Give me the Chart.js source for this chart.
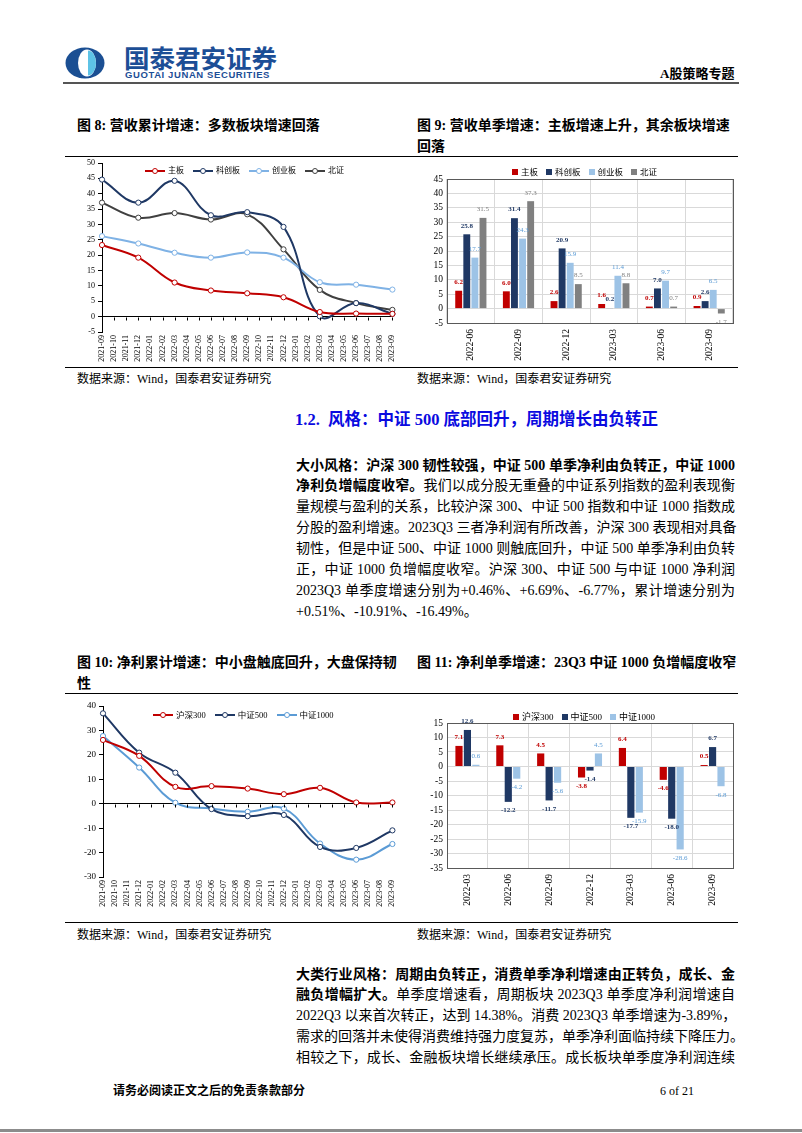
<!DOCTYPE html>
<html lang="zh-CN">
<head>
<meta charset="UTF-8">
<title>A股策略专题</title>
<script src="https://cdn.jsdelivr.net/npm/chart.js"></script>
<style>
  body { margin: 0; background: #fff; }
  #page { position: relative; width: 802px; height: 1133px; overflow: hidden;
          font-family: "Liberation Serif", "Noto Sans CJK SC", serif; color: #000; }
  .abs { position: absolute; white-space: nowrap; }
  .rule { position: absolute; left: 65px; width: 673px; height: 0; border-top: 1.5px solid #000; }
  .ctitle { font-size: 14px; font-weight: bold; line-height: 21px; }
  .src { font-size: 12px; line-height: 16px; }
  .para { position: absolute; left: 296px; width: 439px; font-size: 14px; line-height: 20.9px; }
  .para div { text-align: justify; text-align-last: justify; white-space: nowrap; }
  .para div.last { text-align-last: left; }
  .legend { position: absolute; display: flex; align-items: center; gap: 9px; white-space: nowrap; }
  .legend .it { display: flex; align-items: center; }
  .lm { position: relative; width: 20px; height: 2px; margin-right: 3px; }
  .lm i { position: absolute; left: 7px; top: -2.5px; width: 4px; height: 4px; border-radius: 50%;
          background: #fff; border: 1px solid; }
  .bm { width: 6px; height: 6px; margin-right: 3px; }
  canvas { position: absolute; }
</style>
</head>
<body>
<div id="page">
  <!-- header -->
  <svg class="abs" style="left:65px;top:47px" width="40" height="32" viewBox="0 0 40 32">
    <ellipse cx="20" cy="16" rx="19.5" ry="15.5" fill="#1b4f93"/>
    <ellipse cx="22" cy="16" rx="9" ry="13.5" fill="#fff"/>
    <path d="M23 3.5 A8 12.5 0 0 1 23 28.5 Z" fill="#5ec3e6"/>
  </svg>
  <div class="abs" style="left:124px;top:43px;font-family:'Noto Sans CJK SC';font-weight:bold;font-size:25.5px;line-height:28px;color:#1c4e96">国泰君安证券</div>
  <div class="abs" style="left:125px;top:69px;font-family:'Liberation Sans';font-weight:bold;font-size:9.5px;line-height:11px;letter-spacing:0.6px;color:#1c4e96">GUOTAI JUNAN SECURITIES</div>
  <div class="abs" style="left:660px;top:66px;font-size:13px;line-height:16px;font-weight:bold">A股策略专题</div>
  <div class="abs" style="left:63px;top:82px;width:676px;height:2px;background:#555"></div>

  <!-- figure titles 8 / 9 -->
  <div class="abs ctitle" style="left:77px;top:114.5px">图 8: 营收累计增速：多数板块增速回落</div>
  <div class="abs ctitle" style="left:417px;top:114.5px">图 9: 营收单季增速：主板增速上升，其余板块增速<br>回落</div>
  <div class="rule" style="top:156px"></div>
  <canvas id="c8" width="340" height="212" style="left:65px;top:155px"></canvas>
  <canvas id="c9" width="330" height="200" style="left:412px;top:165px"></canvas>
  <div class="legend" id="lg8" style="left:145px;top:165px;font-size:8px;line-height:12px"></div>
  <div class="legend" id="lg9" style="left:512px;top:166px;font-size:8.5px;line-height:12px;gap:8px"></div>
  <div class="rule" style="top:367px"></div>
  <div class="abs src" style="left:77px;top:371px">数据来源：Wind，国泰君安证券研究</div>
  <div class="abs src" style="left:417px;top:371px">数据来源：Wind，国泰君安证券研究</div>

  <div class="abs" style="left:295px;top:409px;font-size:16.5px;line-height:22px;font-weight:bold;color:#0a0ae0">1.2.&nbsp; 风格：中证 500 底部回升，周期增长由负转正</div>

  <div class="para" style="top:455.5px">
    <div><b>大小风格：沪深 300 韧性较强，中证 500 单季净利由负转正，中证 1000</b></div>
    <div><b>净利负增幅度收窄。</b>我们以成分股无重叠的中证系列指数的盈利表现衡</div>
    <div>量规模与盈利的关系，比较沪深 300、中证 500 指数和中证 1000 指数成</div>
    <div>分股的盈利增速。2023Q3 三者净利润有所改善，沪深 300 表现相对具备</div>
    <div>韧性，但是中证 500、中证 1000 则触底回升，中证 500 单季净利由负转</div>
    <div>正，中证 1000 负增幅度收窄。沪深 300、中证 500 与中证 1000 净利润</div>
    <div>2023Q3 单季度增速分别为+0.46%、+6.69%、-6.77%，累计增速分别为</div>
    <div class="last">+0.51%、-10.91%、-16.49%。</div>
  </div>

  <!-- figure titles 10 / 11 -->
  <div class="abs ctitle" style="left:77px;top:651.5px">图 10: 净利累计增速：中小盘触底回升，大盘保持韧<br>性</div>
  <div class="abs ctitle" style="left:417px;top:651.5px">图 11: 净利单季增速：23Q3 中证 1000 负增幅度收窄</div>
  <div class="rule" style="top:693px"></div>
  <canvas id="c10" width="340" height="225" style="left:65px;top:697px"></canvas>
  <canvas id="c11" width="330" height="222" style="left:412px;top:700px"></canvas>
  <div class="legend" id="lg10" style="left:153px;top:709px;font-size:8.5px;line-height:12px"></div>
  <div class="legend" id="lg11" style="left:513px;top:711px;font-size:9px;line-height:12px;gap:8px"></div>
  <div class="rule" style="top:922px"></div>
  <div class="abs src" style="left:77px;top:927px">数据来源：Wind，国泰君安证券研究</div>
  <div class="abs src" style="left:417px;top:927px">数据来源：Wind，国泰君安证券研究</div>

  <div class="para" style="top:964.5px">
    <div><b>大类行业风格：周期由负转正，消费单季净利增速由正转负，成长、金</b></div>
    <div><b>融负增幅扩大。</b>单季度增速看，周期板块 2023Q3 单季度净利润增速自</div>
    <div>2022Q3 以来首次转正，达到 14.38%。消费 2023Q3 单季增速为-3.89%，</div>
    <div>需求的回落并未使得消费维持强力度复苏，单季净利面临持续下降压力。</div>
    <div>相较之下，成长、金融板块增长继续承压。成长板块单季度净利润连续</div>
  </div>

  <!-- footer -->
  <div class="abs" style="left:113px;top:1083px;font-size:12px;line-height:16px;font-weight:bold">请务必阅读正文之后的免责条款部分</div>
  <div class="abs" style="left:660px;top:1083px;font-size:12px;line-height:16px">6 of 21</div>
  <div class="abs" style="left:0;top:1129px;width:802px;height:3px;background:#8c8c8c"></div>
</div>

<script>
// ---- data ----
const months = ['2021-09','2021-10','2021-11','2021-12','2022-01','2022-02','2022-03','2022-04',
  '2022-05','2022-06','2022-07','2022-08','2022-09','2022-10','2022-11','2022-12','2023-01',
  '2023-02','2023-03','2023-04','2023-05','2023-06','2023-07','2023-08','2023-09'];

// fig 8: revenue cumulative growth (%), values only at quarter ends
const rev8Main  = [23.3,null,null,19.2,null,null,11.1,null,null,8.5,null,null,7.6,null,null,6.3,null,null,1.5,null,null,1.0,null,null,0.9];
const rev8Star  = [44.6,null,null,37.1,null,null,44.2,null,null,33.0,null,null,34.0,null,null,29.2,null,null,0.1,null,null,4.4,null,null,0.9];
const rev8Chi   = [26.2,null,null,23.8,null,null,20.8,null,null,19.2,null,null,20.9,null,null,19.2,null,null,11.2,null,null,10.4,null,null,8.8];
const rev8Bse   = [37.1,null,null,32.2,null,null,33.7,null,null,31.6,null,null,33.3,null,null,21.9,null,null,8.7,null,null,4.4,null,null,2.2];

// fig 9: revenue single-quarter growth (%)
const quarters9 = ['2022-06','2022-09','2022-12','2023-03','2023-06','2023-09'];
const rev9Main  = [6.2, 6.0, 2.6, 1.6, 0.7, 0.9];
const rev9Star  = [25.8, 31.4, 20.9, 0.2, 7.0, 2.6];
const rev9Chi   = [17.7, 24.3, 15.9, 11.4, 9.7, 6.5];
const rev9Bse   = [31.5, 37.3, 8.5, 8.8, 0.7, -1.7];

// fig 10: net profit cumulative growth (%)
const np10Csi300  = [26.1,null,null,19.6,null,null,6.9,null,null,7.2,null,null,6.2,null,null,3.9,null,null,6.5,null,null,0.5,null,null,0.51];
const np10Csi500  = [37.0,null,null,20.9,null,null,12.7,null,null,-2.2,null,null,-5.1,null,null,-4.6,null,null,-17.7,null,null,-18.1,null,null,-10.91];
const np10Csi1000 = [27.7,null,null,14.8,null,null,0.4,null,null,-2.0,null,null,-3.3,null,null,-2.0,null,null,-16.3,null,null,-22.9,null,null,-16.49];

// fig 11: net profit single-quarter growth (%)
const quarters11   = ['2022-03','2022-06','2022-09','2022-12','2023-03','2023-06','2023-09'];
const np11Csi300  = [7.1, 7.3, 4.5, -3.8, 6.4, -4.6, 0.5];
const np11Csi500  = [12.6, -12.2, -11.7, -1.4, -17.7, -18.0, 6.7];
const np11Csi1000 = [0.6, -4.2, -5.6, 4.5, -15.9, -28.6, -6.8];

const RED = '#c00000', NAVY = '#1f3864', LBLUE = '#9dc3e6', LINEBLUE = '#5b9bd5', GRAY = '#808080', DGRAY = '#404040';

Chart.defaults.font.family = '"Liberation Serif", "Noto Sans CJK SC", serif';
Chart.defaults.color = '#000';

// ---- plugins ----
const zeroTicks = {
  id: 'zeroTicks',
  afterDatasetsDraw(chart) {
    const ctx = chart.ctx, x = chart.scales.x, y = chart.scales.y;
    const y0 = Math.round(y.getPixelForValue(0)) + 0.5;
    ctx.save();
    ctx.strokeStyle = '#000';
    ctx.lineWidth = 1;
    ctx.beginPath();
    for (let i = 0; i < chart.data.labels.length; i++) {
      const px = Math.round(x.getPixelForTick(i)) + 0.5;
      ctx.moveTo(px, y0);
      ctx.lineTo(px, y0 + 3);
    }
    ctx.stroke();
    ctx.restore();
  }
};

const plotFrame = {
  id: 'plotFrame',
  afterDatasetsDraw(chart) {
    const a = chart.chartArea, ctx = chart.ctx;
    ctx.save();
    ctx.strokeStyle = '#595959';
    ctx.lineWidth = 1;
    ctx.strokeRect(Math.round(a.left) + 0.5, Math.round(a.top) + 0.5,
      Math.round(a.right - a.left), Math.round(a.bottom - a.top));
    ctx.restore();
  }
};

const barLabels = {
  id: 'barLabels',
  afterDatasetsDraw(chart, args, opts) {
    const ctx = chart.ctx;
    chart.data.datasets.forEach((ds, i) => {
      const meta = chart.getDatasetMeta(i);
      ctx.save();
      ctx.font = (ds.labelBold ? 'bold ' : '') + opts.size + 'px "Liberation Serif"';
      ctx.fillStyle = ds.labelColor;
      ctx.textAlign = 'center';
      meta.data.forEach((bar, j) => {
        const v = ds.data[j];
        if (v < 0) {
          ctx.textBaseline = 'top';
          ctx.fillText(v.toFixed(1), bar.x, bar.y + 5);
        } else {
          ctx.textBaseline = 'bottom';
          ctx.fillText(v.toFixed(1), bar.x, bar.y - 5);
        }
      });
      ctx.restore();
    });
  }
};

// ---- builders ----
function lineSet(label, data, color) {
  return {
    label, data, borderColor: color, backgroundColor: color, borderWidth: 2,
    tension: 0.4, spanGaps: true,
    pointRadius: 2.6, pointBackgroundColor: '#fff', pointBorderColor: color, pointBorderWidth: 1
  };
}

function lineChart(id, labels, sets, yMin, yMax, step, yWidth, pad, xHeight, yFont) {
  return new Chart(document.getElementById(id), {
    type: 'line',
    data: { labels, datasets: sets },
    plugins: [zeroTicks],
    options: {
      responsive: false, animation: false,
      layout: { padding: pad },
      plugins: { legend: { display: false }, tooltip: { enabled: false } },
      scales: {
        x: {
          grid: { display: false, drawTicks: false }, border: { display: false },
          ticks: { autoSkip: false, minRotation: 90, maxRotation: 90, padding: 3, font: { size: 8 } },
          afterFit(s) { s.height = xHeight; }
        },
        y: {
          min: yMin, max: yMax,
          ticks: { stepSize: step, padding: 3, font: { size: yFont } },
          border: { display: true, color: '#000', width: 1 },
          grid: { color: c => c.tick && c.tick.value === 0 ? '#000' : 'rgba(0,0,0,0)', tickColor: '#000', tickLength: 4 },
          afterFit(s) { s.width = yWidth; }
        }
      }
    }
  });
}

function barSet(label, data, color, labelColor, labelBold) {
  return { label, data, backgroundColor: color, borderWidth: 0, labelColor, labelBold,
           categoryPercentage: 0.66, barPercentage: 0.85 };
}

function barChart(id, labels, sets, yMin, yMax, yWidth, pad, xHeight, catPct) {
  sets.forEach(s => { s.categoryPercentage = catPct; });
  return new Chart(document.getElementById(id), {
    type: 'bar',
    data: { labels, datasets: sets },
    plugins: [barLabels, plotFrame],
    options: {
      responsive: false, animation: false,
      layout: { padding: pad },
      plugins: { legend: { display: false }, tooltip: { enabled: false }, barLabels: { size: 7 } },
      scales: {
        x: {
          grid: { color: '#d9d9d9', drawTicks: false }, border: { display: false },
          ticks: { autoSkip: false, minRotation: 90, maxRotation: 90, padding: 6, font: { size: 9.5 } },
          afterFit(s) { s.height = xHeight; }
        },
        y: {
          min: yMin, max: yMax,
          ticks: { stepSize: 5, padding: 4, font: { size: 9.5 } },
          border: { display: false },
          grid: { color: '#d9d9d9', drawTicks: false },
          afterFit(s) { s.width = yWidth; }
        }
      }
    }
  });
}

function legend(id, sets, kind) {
  const el = document.getElementById(id);
  sets.forEach(s => {
    const it = document.createElement('span');
    it.className = 'it';
    const c = kind === 'line' ? s.borderColor : s.backgroundColor;
    it.innerHTML = kind === 'line'
      ? '<span class="lm" style="background:' + c + '"><i style="border-color:' + c + '"></i></span>' + s.label
      : '<span class="bm" style="background:' + c + '"></span>' + s.label;
    el.appendChild(it);
  });
}

// ---- fig 8 ----
const sets8 = [
  lineSet('主板', rev8Main, RED),
  lineSet('科创板', rev8Star, NAVY),
  lineSet('创业板', rev8Chi, '#7fb2e5'),
  lineSet('北证', rev8Bse, DGRAY)
];
lineChart('c8', months, sets8, -5, 50, 5, 37, { top: 8, right: 12, bottom: 0, left: 0 }, 35, 8);
legend('lg8', sets8, 'line');

// ---- fig 9 ----
const sets9 = [
  barSet('主板', rev9Main, RED, RED, true),
  barSet('科创板', rev9Star, NAVY, NAVY, true),
  barSet('创业板', rev9Chi, LBLUE, LINEBLUE, false),
  barSet('北证', rev9Bse, GRAY, GRAY, false)
];
barChart('c9', quarters9, sets9, -5, 45, 35, { top: 14, right: 9, bottom: 0, left: 0 }, 42, 0.68);
legend('lg9', sets9, 'bar');

// ---- fig 10 ----
const sets10 = [
  lineSet('沪深300', np10Csi300, RED),
  lineSet('中证500', np10Csi500, NAVY),
  lineSet('中证1000', np10Csi1000, LINEBLUE)
];
lineChart('c10', months, sets10, -30, 40, 10, 38, { top: 9, right: 12, bottom: 0, left: 0 }, 45, 9);
legend('lg10', sets10, 'line');

// ---- fig 11 ----
const sets11 = [
  barSet('沪深300', np11Csi300, RED, RED, true),
  barSet('中证500', np11Csi500, NAVY, NAVY, true),
  barSet('中证1000', np11Csi1000, LBLUE, LINEBLUE, false)
];
barChart('c11', quarters11, sets11, -35, 15, 35, { top: 23, right: 9, bottom: 0, left: 0 }, 54, 0.62);
legend('lg11', sets11, 'bar');
</script>
</body>
</html>
